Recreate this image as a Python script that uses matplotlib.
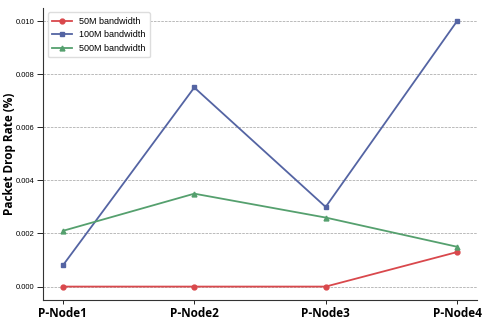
import matplotlib
matplotlib.use("Agg")
import matplotlib.pyplot as plt

nodes = ["P-Node1", "P-Node2", "P-Node3", "P-Node4"]
bw_50m = [0.0, 0.0, 0.0, 0.0013]
bw_100m = [0.0008, 0.0075, 0.0030, 0.0100]
bw_500m = [0.0021, 0.0035, 0.0026, 0.0015]

fig = plt.figure(figsize=(4.91, 3.27), dpi=100)
ax = fig.add_axes([0.088, 0.083, 0.883, 0.893])

x = range(len(nodes))
ax.plot(x, bw_50m, color='#d9484c', marker='o', markersize=3.5, linewidth=1.3, label='50M bandwidth')
ax.plot(x, bw_100m, color='#5464a3', marker='s', markersize=3.5, linewidth=1.3, label='100M bandwidth')
ax.plot(x, bw_500m, color='#55a06e', marker='^', markersize=3.5, linewidth=1.3, label='500M bandwidth')

small = 'Liberation Sans'
ax.set_xticks(list(x))
ax.set_xticklabels(nodes, fontsize=8.5, fontweight='bold', family='Open Sans')
ax.set_yticks([0.0, 0.002, 0.004, 0.006, 0.008, 0.010])
ax.set_yticklabels([f"{v:.3f}" for v in ax.get_yticks()], fontsize=5.5, family=small)
ax.set_ylabel("Packet Drop Rate (%)", fontsize=8.5, fontweight='bold', family='Open Sans')
ax.yaxis.set_label_coords(-0.062, 0.5)
ax.tick_params(axis='y', length=4, width=0.6, pad=2)
ax.tick_params(axis='x', length=3, width=0.6, pad=2)

ax.grid(axis='y', linestyle='--', color='#888888', linewidth=0.5, alpha=0.8)
ax.set_axisbelow(True)
for s in ['top', 'right']:
    ax.spines[s].set_visible(False)
for s in ['left', 'bottom']:
    ax.spines[s].set_linewidth(0.8)
    ax.spines[s].set_color('#333333')

ax.legend(loc='upper left', prop={'family': small, 'size': 6.5}, framealpha=1,
          edgecolor='#dddddd', borderpad=0.5, handlelength=2.2)

fig.savefig("out.png", dpi=100)
